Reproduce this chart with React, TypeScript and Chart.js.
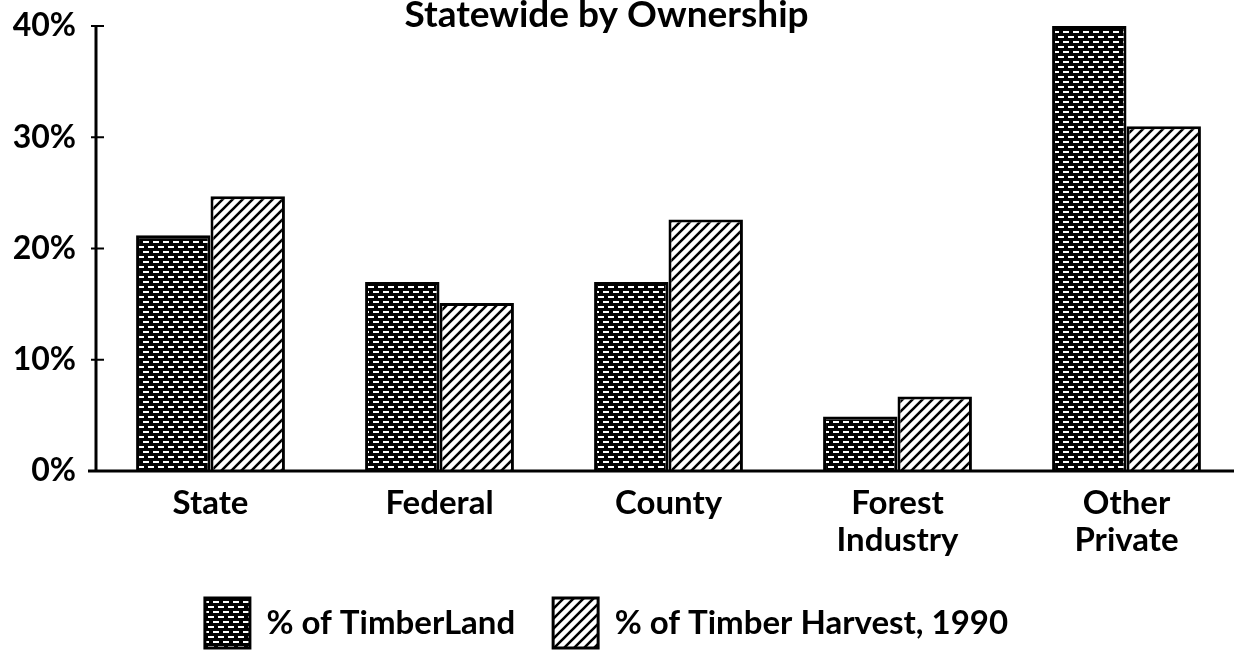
import React, { useEffect, useRef } from "react";
import { Chart, registerables } from "chart.js";

Chart.register(...registerables);

// ---- data ----
const categories: string[][] = [["State"], ["Federal"], ["County"], ["Forest", "Industry"], ["Other", "Private"]];
const timberLandShare: number[] = [21.2, 17.0, 17.0, 4.9, 40.0];
const timberHarvestShare: number[] = [24.7, 15.1, 22.6, 6.7, 31.0];
const yTickValues: number[] = [0, 10, 20, 30, 40];
const seriesNames: string[] = ["% of TimberLand", "% of Timber Harvest, 1990"];
const chartTitle = "Statewide by Ownership";

const FONT = "Lato, 'Open Sans', sans-serif";
const WEIGHT: any = "bold";

function makeBrickPattern(): CanvasPattern | string {
  const c = document.createElement("canvas");
  c.width = 10;
  c.height = 10;
  const g = c.getContext("2d");
  if (!g) return "#000";
  g.fillStyle = "#000";
  g.fillRect(0, 0, 10, 10);
  g.fillStyle = "#fff";
  g.fillRect(1, 1, 6, 2);
  g.fillRect(6, 6, 6, 2);
  g.fillRect(-4, 6, 6, 2);
  return g.createPattern(c, "repeat") || "#000";
}

function makeHatchPattern(): CanvasPattern | string {
  const c = document.createElement("canvas");
  c.width = 10;
  c.height = 10;
  const g = c.getContext("2d");
  if (!g) return "#fff";
  g.fillStyle = "#fff";
  g.fillRect(0, 0, 10, 10);
  g.strokeStyle = "#000";
  g.lineWidth = 2.6;
  g.beginPath();
  g.moveTo(-1, 11);
  g.lineTo(11, -1);
  g.moveTo(-6, 6);
  g.lineTo(6, -6);
  g.moveTo(4, 16);
  g.lineTo(16, 4);
  g.stroke();
  return g.createPattern(c, "repeat") || "#fff";
}

const axisPlugin = {
  id: "axisLines",
  afterDatasetsDraw(chart: any) {
    const { ctx, chartArea, scales } = chart;
    const y = scales.y;
    const x0 = chartArea.left;
    const yb = y.getPixelForValue(0);
    const yt = y.getPixelForValue(40);
    ctx.save();
    ctx.strokeStyle = "#000";
    ctx.lineCap = "butt";
    ctx.lineWidth = 3;
    ctx.beginPath();
    ctx.moveTo(x0, yt - 1);
    ctx.lineTo(x0, yb);
    ctx.stroke();
    ctx.beginPath();
    ctx.moveTo(x0 - 8, yb);
    ctx.lineTo(chart.width, yb);
    ctx.stroke();
    ctx.lineWidth = 2;
    for (const t of y.ticks) {
      if (t.value === 0) continue;
      const py = y.getPixelForValue(t.value);
      ctx.beginPath();
      ctx.moveTo(x0 - 5, py);
      ctx.lineTo(x0 + 8, py);
      ctx.stroke();
    }
    ctx.restore();
  },
};

export default function App() {
  const canvasRef = useRef<HTMLCanvasElement | null>(null);

  useEffect(() => {
    if (!canvasRef.current) return;
    Chart.defaults.font.family = FONT;
    Chart.defaults.color = "#000";
    const brick = makeBrickPattern();
    const hatch = makeHatchPattern();
    const chart = new Chart(canvasRef.current, {
      type: "bar",
      data: {
        labels: categories,
        datasets: [
          {
            label: seriesNames[0],
            data: timberLandShare,
            backgroundColor: brick as any,
            borderColor: "#000",
            borderWidth: 3,
            categoryPercentage: 0.65,
            barPercentage: 1.0,
          },
          {
            label: seriesNames[1],
            data: timberHarvestShare,
            backgroundColor: hatch as any,
            borderColor: "#000",
            borderWidth: 3,
            categoryPercentage: 0.65,
            barPercentage: 1.0,
          },
        ],
      },
      options: {
        animation: false,
        responsive: true,
        maintainAspectRatio: false,
        layout: { padding: 0 },
        plugins: {
          title: {
            display: true,
            text: chartTitle,
            color: "#000",
            font: { family: FONT, size: 37, weight: WEIGHT, lineHeight: "30px" } as any,
            padding: { top: 0, bottom: -4 },
          },
          legend: {
            position: "bottom",
            labels: {
              color: "#000",
              font: { family: FONT, size: 33, weight: WEIGHT },
              boxWidth: 45,
              boxHeight: 50,
              padding: 38,
            },
          },
          tooltip: { enabled: false },
        },
        scales: {
          x: {
            grid: { display: false, drawTicks: false },
            border: { display: false },
            ticks: {
              color: "#000",
              font: { family: FONT, size: 33, weight: WEIGHT, lineHeight: "37px" } as any,
              padding: 14,
              maxRotation: 0,
              autoSkip: false,
            },
            afterFit(scale: any) {
              scale.height = 89;
              scale.paddingLeft = 0;
              scale.paddingRight = 0;
            },
          },
          y: {
            min: 0,
            max: 40,
            afterBuildTicks(scale: any) {
              scale.ticks = yTickValues.map((v) => ({ value: v }));
            },
            ticks: {
              color: "#000",
              font: { family: FONT, size: 32, weight: WEIGHT, lineHeight: "20px" } as any,
              padding: 20,
              callback: (v: any) => `${v}%`,
            },
            grid: { display: false, drawTicks: false },
            border: { display: false },
            afterFit(scale: any) {
              scale.width = 124;
              scale.paddingTop = 0;
              scale.paddingBottom = 0;
            },
          },
        },
      },
      plugins: [axisPlugin],
    });
    return () => chart.destroy();
  }, []);

  return (
    <div
      style={{
        position: "absolute",
        left: 0,
        top: 0,
        width: 1234,
        height: 658,
        overflow: "hidden",
        background: "#fff",
      }}
    >
      <div style={{ position: "absolute", left: -28, top: 0, width: 1269, height: 658 }}>
        <canvas ref={canvasRef} />
      </div>
    </div>
  );
}
